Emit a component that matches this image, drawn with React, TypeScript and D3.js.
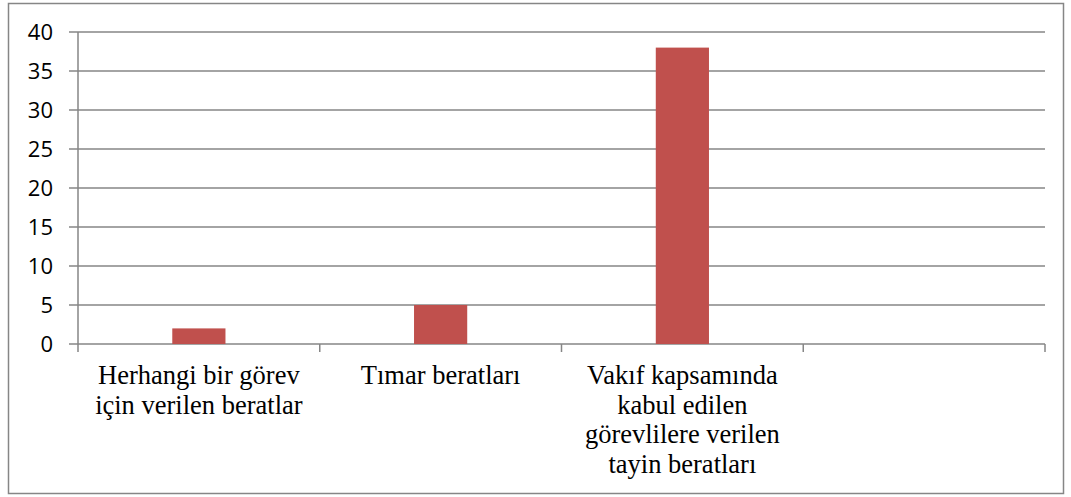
import { useEffect, useRef } from 'react';
import * as d3 from 'd3';

// Category labels (line breaks as they appear in the chart)
const categories = ['c1', 'c2', 'c3', 'c4'];
const categoryLines = [
  ['Herhangi bir görev', 'için verilen beratlar'],
  ['Tımar beratları'],
  ['Vakıf kapsamında', 'kabul edilen', 'görevlilere verilen', 'tayin beratları'],
  [],
];
const values = [2, 5, 38, null];
const yTicks = [0, 5, 10, 15, 20, 25, 30, 35, 40];

const WIDTH = 1071;
const HEIGHT = 497;

const App = () => {
  const svgRef = useRef<SVGSVGElement>(null);

  useEffect(() => {
    if (!svgRef.current) return;
    const svg = d3.select(svgRef.current);
    svg.selectAll('*').remove();

    const left = 78;
    const right = 1045;
    const top = 32;
    const bottom = 344;
    const grey = '#868686';

    // outer frame
    svg.append('rect')
      .attr('x', 8.5).attr('y', 3.5)
      .attr('width', 1055).attr('height', 490)
      .attr('fill', 'white')
      .attr('stroke', grey)
      .attr('stroke-width', 1.5);

    const x = d3.scaleBand().domain(categories).range([left, right]);
    const y = d3.scaleLinear().domain([0, 40]).range([bottom, top]);

    // gridlines + y tick marks
    svg.append('g')
      .selectAll('line')
      .data(yTicks)
      .enter()
      .append('line')
      .attr('x1', left - 9)
      .attr('x2', right)
      .attr('y1', d => y(d))
      .attr('y2', d => y(d))
      .attr('stroke', grey)
      .attr('stroke-width', 1.5);

    // y tick labels
    svg.append('g')
      .selectAll('text')
      .data(yTicks)
      .enter()
      .append('text')
      .attr('x', 53)
      .attr('y', d => y(d))
      .attr('dy', '0.36em')
      .attr('text-anchor', 'end')
      .style('font-family', "'Open Sans', 'Liberation Sans', sans-serif")
      .style('font-size', '22px')
      .attr('fill', '#000')
      .text(d => d);

    // y axis line
    svg.append('line')
      .attr('x1', left).attr('x2', left)
      .attr('y1', top).attr('y2', bottom)
      .attr('stroke', grey).attr('stroke-width', 1.5);

    // x tick marks at band boundaries
    const bounds = categories.map(c => x(c) || 0).concat([right]);
    svg.append('g')
      .selectAll('line')
      .data(bounds)
      .enter()
      .append('line')
      .attr('x1', d => d).attr('x2', d => d)
      .attr('y1', bottom).attr('y2', bottom + 8)
      .attr('stroke', grey).attr('stroke-width', 1.5);

    // bars
    const barW = x.bandwidth() * 0.22;
    const data = categories.map((c, i) => ({ c, v: values[i] })).filter(d => d.v !== null);
    svg.append('g')
      .selectAll('rect')
      .data(data)
      .enter()
      .append('rect')
      .attr('x', d => (x(d.c) || 0) + x.bandwidth() / 2 - barW / 2)
      .attr('y', d => y(d.v as number))
      .attr('width', barW)
      .attr('height', d => bottom - y(d.v as number))
      .attr('fill', '#C0504D');

    // category labels
    categories.forEach((c, i) => {
      const cx = (x(c) || 0) + x.bandwidth() / 2;
      const t = svg.append('text')
        .attr('text-anchor', 'middle')
        .style('font-family', "'Liberation Serif', 'Times New Roman', serif")
        .style('font-size', '26.5px')
        .attr('fill', '#000');
      categoryLines[i].forEach((line, j) => {
        t.append('tspan')
          .attr('x', cx)
          .attr('y', 384 + j * 29.5)
          .text(line);
      });
    });
  }, []);

  return (
    <svg ref={svgRef} width={WIDTH} height={HEIGHT}
      style={{ display: 'block', position: 'absolute', left: 0, top: 0 }} />
  );
};

export default App;
